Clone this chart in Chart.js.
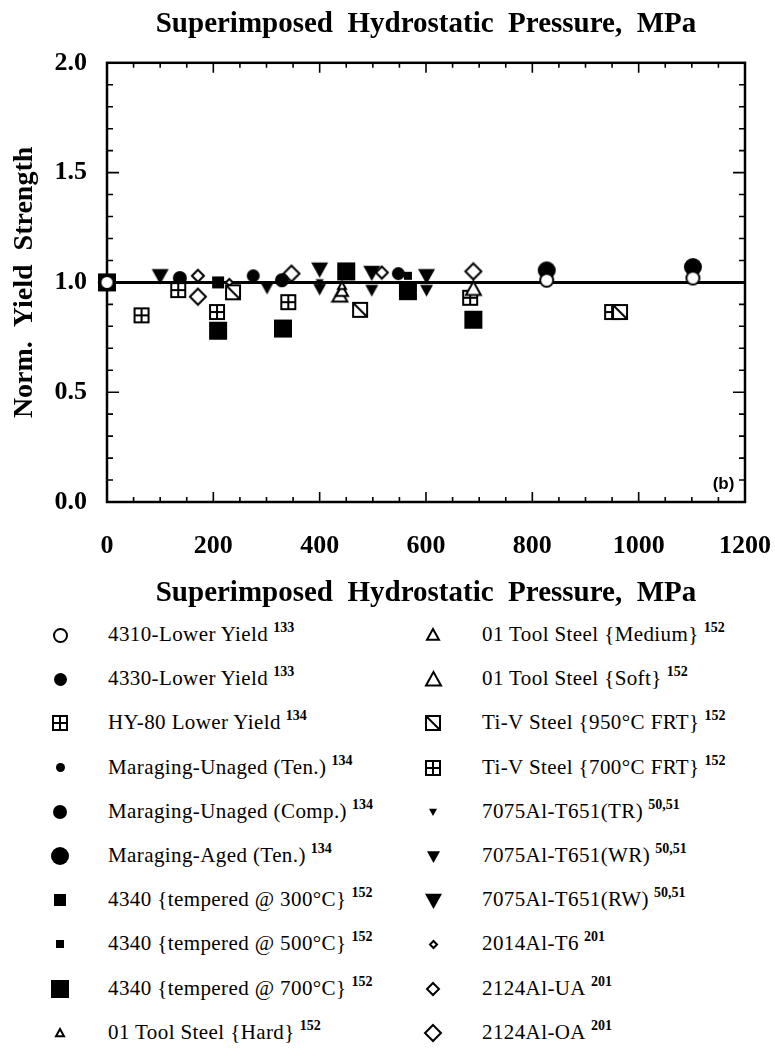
<!DOCTYPE html>
<html>
<head>
<meta charset="utf-8">
<script src="https://cdn.jsdelivr.net/npm/chart.js@4.4.0/dist/chart.umd.min.js"></script>
<style>
  html, body { margin: 0; padding: 0; background: #fff; }
  #wrap { position: relative; width: 775px; height: 1054px; overflow: hidden; }
  #chart { position: absolute; left: 0; top: 0; }
  .leg-text {
    position: absolute; white-space: nowrap; color: #000;
    font-family: "Liberation Serif", "Times New Roman", serif;
    font-size: 21px; line-height: 26px; letter-spacing: 0.4px;
  }
  .leg-text .ref { position: relative; top: -9px; margin-left: 5px; font-size: 14px; font-weight: bold; letter-spacing: 0; }
  .leg-mark { position: absolute; }
</style>
</head>
<body>
<div id="wrap">
  <canvas id="chart" width="775" height="620"></canvas>
  <div id="legend"></div>
</div>
<script>
(function () {
  'use strict';

  /* ---------------- Data ---------------- */
  // each point: [superimposed pressure (MPa), normalized yield strength]
  var s4310 = [[0, 1.00], [827, 1.01], [1102, 1.02]];
  var s4330 = [[275, 1.03], [548, 1.04]];
  var sHY80 = [[65, 0.85], [134, 0.965]];
  var sMarUnagedTen = [[329, 1.00]];
  var sMarUnagedComp = [[137, 1.02], [329, 1.01]];
  var sMarAgedTen = [[827, 1.055], [1102, 1.07]];
  var s4340t300 = [[209, 1.00]];
  var s4340t500 = [[566, 1.03]];
  var s4340t700 = [[0, 1.00], [209, 0.78], [331, 0.79], [450, 1.05], [566, 0.96], [689, 0.83]];
  var sToolHard = [[442, 0.985]];
  var sToolMedium = [[442, 0.96]];
  var sToolSoft = [[438, 0.94], [689, 0.97]];
  var sTiV950 = [[237, 0.955], [476, 0.875], [965, 0.865]];
  var sTiV700 = [[207, 0.865], [341, 0.91], [683, 0.93], [950, 0.865]];
  var s7075TR = [[400, 1.00]];
  var s7075WR = [[301, 0.975], [400, 0.97], [498, 0.965], [601, 0.965]];
  var s7075RW = [[100, 1.03], [400, 1.06], [498, 1.045], [601, 1.03]];
  var s2014T6 = [[230, 1.00]];
  var s2124UA = [[171, 1.03], [517, 1.045]];
  var s2124OA = [[0, 1.00], [171, 0.935], [347, 1.04], [689, 1.05]];

  var seriesData = [s4310, s4330, sHY80, sMarUnagedTen, sMarUnagedComp, sMarAgedTen,
    s4340t300, s4340t500, s4340t700, sToolHard, sToolMedium, sToolSoft, sTiV950, sTiV700,
    s7075TR, s7075WR, s7075RW, s2014T6, s2124UA, s2124OA];

  var seriesNames = [
    '4310-Lower Yield', '4330-Lower Yield', 'HY-80 Lower Yield', 'Maraging-Unaged (Ten.)',
    'Maraging-Unaged (Comp.)', 'Maraging-Aged (Ten.)', '4340 {tempered @ 300°C}',
    '4340 {tempered @ 500°C}', '4340 {tempered @ 700°C}', '01 Tool Steel {Hard}',
    '01 Tool Steel {Medium}', '01 Tool Steel {Soft}', 'Ti-V Steel {950°C FRT}',
    'Ti-V Steel {700°C FRT}', '7075Al-T651(TR)', '7075Al-T651(WR)', '7075Al-T651(RW)',
    '2014Al-T6', '2124Al-UA', '2124Al-OA'
  ];
  var seriesRefs = ['133', '133', '134', '134', '134', '134', '152', '152', '152', '152',
    '152', '152', '152', '152', '50,51', '50,51', '50,51', '201', '201', '201'];

  // reference line y = 1
  var refLineX = [0, 1200];
  var refLineY = [1.0, 1.0];

  var xTicks = [0, 200, 400, 600, 800, 1000, 1200];
  var yTicks = [0.0, 0.5, 1.0, 1.5, 2.0];

  /* ---------------- Marker styles ---------------- */
  var seriesShapes = ['openCircle', 'circle', 'crossSquare', 'circle', 'circle', 'circle',
    'square', 'square', 'square', 'openTriangle', 'openTriangle', 'openTriangle',
    'diagSquare', 'crossSquare', 'downTriangle', 'downTriangle', 'downTriangle',
    'diamond', 'diamond', 'diamond'];
  var seriesSizes = [13, 13, 14, 9, 14, 18, 12, 8, 18, 8, 12, 15, 14, 14, 8, 13, 17, 7, 12, 16];

  function markerCanvas(kind, size) {
    var n = Math.ceil(size + 4);
    var c = document.createElement('canvas');
    c.width = n; c.height = n;
    var g = c.getContext('2d');
    var m = n / 2, h = size / 2;
    var filled = (kind === 'circle' || kind === 'square' || kind === 'downTriangle');
    g.fillStyle = '#000';
    g.strokeStyle = '#000';
    g.lineWidth = 2;
    g.beginPath();
    if (kind === 'circle' || kind === 'openCircle') {
      g.arc(m, m, h, 0, Math.PI * 2);
    } else if (kind === 'square' || kind === 'crossSquare' || kind === 'diagSquare') {
      g.rect(m - h, m - h, size, size);
    } else if (kind === 'openTriangle') {
      g.moveTo(m, m - h); g.lineTo(m + h, m + h * 0.8); g.lineTo(m - h, m + h * 0.8); g.closePath();
    } else if (kind === 'downTriangle') {
      g.moveTo(m - h, m - h * 0.8); g.lineTo(m + h, m - h * 0.8); g.lineTo(m, m + h); g.closePath();
    } else if (kind === 'diamond') {
      g.moveTo(m, m - h); g.lineTo(m + h, m); g.lineTo(m, m + h); g.lineTo(m - h, m); g.closePath();
    }
    if (filled) {
      g.fill();
    } else {
      g.fillStyle = '#fff';
      g.fill();
      g.stroke();
    }
    if (kind === 'crossSquare') {
      g.beginPath();
      g.moveTo(m, m - h); g.lineTo(m, m + h);
      g.moveTo(m - h, m); g.lineTo(m + h, m);
      g.stroke();
    } else if (kind === 'diagSquare') {
      g.beginPath();
      g.moveTo(m - h, m - h); g.lineTo(m + h, m + h);
      g.stroke();
    }
    return c;
  }

  /* ---------------- Datasets ---------------- */
  var datasets = seriesData.map(function (pts, i) {
    return {
      label: seriesNames[i],
      data: pts.map(function (p) { return { x: p[0], y: p[1] }; }),
      pointStyle: markerCanvas(seriesShapes[i], seriesSizes[i]),
      pointRadius: seriesSizes[i] / 2,
      pointHoverRadius: seriesSizes[i] / 2,
      clip: false,
      order: i
    };
  });
  datasets.push({
    type: 'line',
    label: 'Norm = 1',
    data: refLineX.map(function (x, i) { return { x: x, y: refLineY[i] }; }),
    borderColor: '#000',
    borderWidth: 3,
    pointRadius: 0,
    fill: false,
    clip: false,
    order: 100
  });

  /* ---------------- Frame with inward ticks + panel tag ---------------- */
  var xMinorStep = 50, yMinorStep = 0.1;
  var framePlugin = {
    id: 'frame',
    beforeDatasetsDraw: function (chart) {
      var a = chart.chartArea, xs = chart.scales.x, ys = chart.scales.y, g = chart.ctx;
      g.save();
      g.strokeStyle = '#000';
      g.lineWidth = 2.5;
      g.strokeRect(a.left, a.top, a.right - a.left, a.bottom - a.top);
      g.lineWidth = 1.6;
      g.beginPath();
      var v, px, py, len;
      for (v = xs.min; v <= xs.max + 1e-6; v += xMinorStep) {
        px = xs.getPixelForValue(v);
        len = (xTicks.indexOf(v) >= 0) ? 10 : 5;
        g.moveTo(px, a.bottom); g.lineTo(px, a.bottom - len);
        g.moveTo(px, a.top); g.lineTo(px, a.top + len);
      }
      for (var k = 0; k <= Math.round((ys.max - ys.min) / yMinorStep); k++) {
        v = ys.min + k * yMinorStep;
        py = ys.getPixelForValue(v);
        len = (k % 5 === 0) ? 12 : 6;
        g.moveTo(a.left, py); g.lineTo(a.left + len, py);
        g.moveTo(a.right, py); g.lineTo(a.right - len, py);
      }
      g.stroke();
      g.restore();
    },
    afterDraw: function (chart) {
      var xs = chart.scales.x, ys = chart.scales.y, g = chart.ctx;
      g.save();
      g.fillStyle = '#000';
      g.font = 'bold 17px "Liberation Sans", Arial, sans-serif';
      g.textAlign = 'right';
      g.textBaseline = 'middle';
      g.fillText('(b)', xs.getPixelForValue(1180), ys.getPixelForValue(0.08));
      g.restore();
    }
  };

  /* ---------------- Chart ---------------- */
  Chart.defaults.font.family = "'Liberation Serif', 'Times New Roman', serif";
  Chart.defaults.color = '#000';

  var titleText = 'Superimposed  Hydrostatic  Pressure,  MPa';

  new Chart(document.getElementById('chart').getContext('2d'), {
    type: 'scatter',
    data: { datasets: datasets },
    options: {
      responsive: false,
      animation: false,
      events: [],
      layout: { padding: { left: 0, right: 30, top: 0, bottom: 0 } },
      plugins: {
        legend: { display: false },
        tooltip: { enabled: false },
        title: {
          display: true,
          fullSize: false,
          text: titleText,
          font: { size: 29, weight: 'bold' },
          color: '#000',
          padding: { top: 7, bottom: 21 }
        }
      },
      scales: {
        x: {
          type: 'linear',
          min: xTicks[0],
          max: xTicks[xTicks.length - 1],
          afterBuildTicks: function (s) { s.ticks = xTicks.map(function (v) { return { value: v }; }); },
          afterFit: function (s) { s.height = 118; },
          // invisible tick marks only used to push the labels down
          grid: { display: false, drawTicks: true, tickLength: 27 },
          border: { display: false },
          ticks: { padding: 2, font: { size: 26, weight: 'bold' }, color: '#000',
            callback: function (v) { return String(v); } },
          title: { display: true, text: titleText, font: { size: 29, weight: 'bold' },
            color: '#000', padding: { top: 0, bottom: 9 } }
        },
        y: {
          type: 'linear',
          min: yTicks[0],
          max: yTicks[yTicks.length - 1],
          afterBuildTicks: function (s) { s.ticks = yTicks.map(function (v) { return { value: v }; }); },
          afterFit: function (s) { s.width = 107; },
          grid: { display: false, drawTicks: true, tickLength: 18 },
          border: { display: false },
          ticks: { padding: 2, font: { size: 26, weight: 'bold' }, color: '#000',
            callback: function (v) { return Number(v).toFixed(1); } },
          title: { display: true, text: 'Norm.  Yield  Strength', font: { size: 28, weight: 'bold' },
            color: '#000', padding: { top: 8, bottom: 0 } }
        }
      }
    },
    plugins: [framePlugin]
  });

  /* ---------------- HTML legend (two columns) ---------------- */
  var legend = document.getElementById('legend');
  var legendTop = 635, legendStep = 44.2, rowsPerCol = 10;
  var colMarkX = [60, 433], colTextX = [108, 482];

  seriesNames.forEach(function (name, i) {
    var col = Math.floor(i / rowsPerCol), row = i % rowsPerCol;
    var cy = legendTop + row * legendStep;

    var mark = markerCanvas(seriesShapes[i], seriesSizes[i]);
    mark.className = 'leg-mark';
    mark.style.left = (colMarkX[col] - mark.width / 2) + 'px';
    mark.style.top = (cy - mark.height / 2) + 'px';
    legend.appendChild(mark);

    var t = document.createElement('div');
    t.className = 'leg-text';
    t.style.left = colTextX[col] + 'px';
    t.style.top = (cy - 14) + 'px';
    t.appendChild(document.createTextNode(name));
    var ref = document.createElement('span');
    ref.className = 'ref';
    ref.textContent = seriesRefs[i];
    t.appendChild(ref);
    legend.appendChild(t);
  });
})();
</script>
</body>
</html>
